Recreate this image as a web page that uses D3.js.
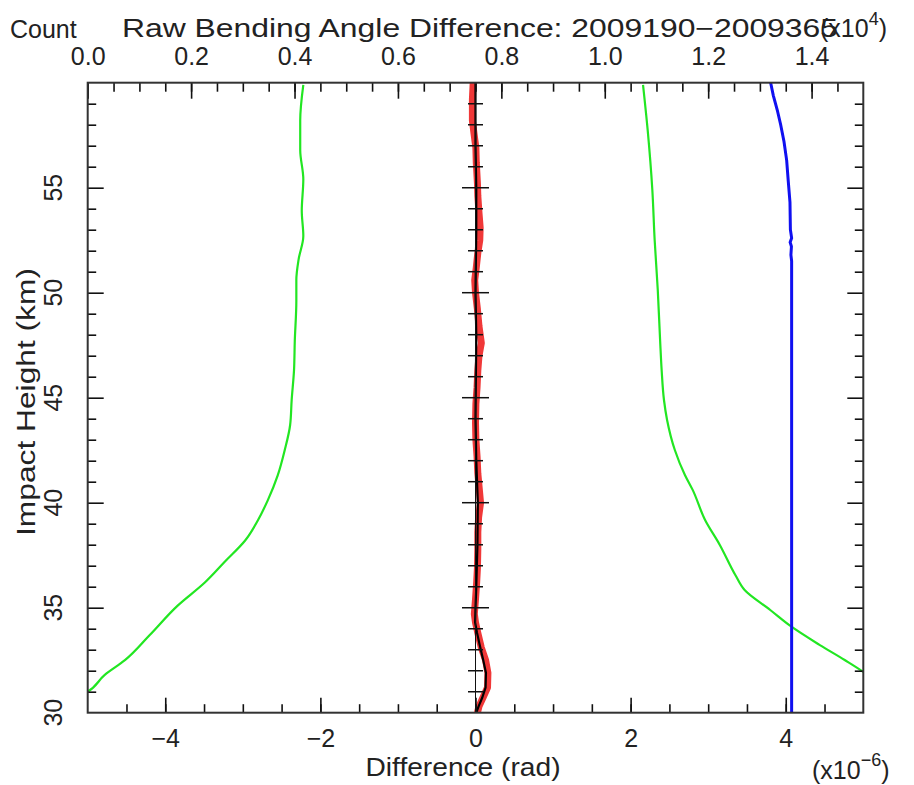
<!DOCTYPE html>
<html>
<head>
<meta charset="utf-8">
<script src="https://cdn.jsdelivr.net/npm/d3@7"></script>
<style>
  body { margin: 0; background: #fff; }
  text { font-family: "Liberation Sans", Arial, sans-serif; fill: #222; }
</style>
</head>
<body>
<div id="chart"></div>
<script>
// data (difference in 1e-6 rad, height in km, count)
var redKm  = [60, 59.2, 58.2, 57.6, 56.9, 56.2, 55.2, 54.6, 53.8, 53.1, 52.5, 51.9, 51.2, 50.6, 50.0, 49.2, 48.4, 47.6, 47.0, 46.3, 45.5, 44.7, 43.8, 43.0, 42.2, 41.4, 40.6, 40.0, 39.3, 38.6, 37.8, 36.9, 36.2, 35.4, 34.7, 34.3, 33.8, 33.1, 32.5, 31.9, 31.2, 30.75, 30.3, 30.0];
var redVal = [-0.03, -0.04, -0.04, -0.02, 0.005, 0.01, 0.025, 0.03, 0.045, 0.06, 0.055, 0.03, 0.01, -0.01, 0.0, 0.025, 0.045, 0.075, 0.045, 0.03, 0.02, 0.005, 0.0, 0.005, 0.02, 0.03, 0.05, 0.065, 0.04, 0.03, 0.03, 0.025, 0.015, 0.0, -0.015, 0.0, 0.03, 0.075, 0.13, 0.16, 0.155, 0.1, 0.045, 0.025];

var blackKm  = [60, 57, 55, 53, 50, 48, 46, 44, 42, 40, 38, 36, 35, 34.3, 33.8, 33.3, 32.5, 31.9, 31.2, 30.7, 30.3, 30.0];
var blackVal = [0.0, 0.0, 0.01, 0.01, 0.0, 0.01, 0.005, 0.0, 0.01, 0.03, 0.025, 0.01, 0.0, -0.005, 0.02, 0.05, 0.1, 0.135, 0.13, 0.085, 0.04, 0.01];

var greenLoKm  = [59.9, 58.2, 56.8, 55.4, 53.9, 52.7, 51.6, 50.6, 49.6, 47.7, 46.3, 44.9, 43.7, 42.5, 41.3, 40.1, 39.2, 38.2, 37.2, 36.2, 35.1, 33.7, 32.5, 31.8, 30.98, 30.5, 30.0];
var greenLoVal = [-2.22, -2.26, -2.26, -2.22, -2.24, -2.22, -2.28, -2.31, -2.31, -2.33, -2.34, -2.37, -2.39, -2.46, -2.55, -2.68, -2.8, -2.97, -3.23, -3.49, -3.84, -4.2, -4.52, -4.78, -5.01, -5.3, -5.6];

var greenHiKm  = [59.9, 57.74, 54.89, 52.51, 50.13, 47.75, 46.32, 44.89, 43.94, 42.51, 41.32, 40.61, 39.18, 37.99, 36.56, 35.84, 34.89, 34.13, 33.22, 32.51, 31.94, 31.5, 30.0];
var greenHiVal = [2.16, 2.22, 2.28, 2.31, 2.35, 2.38, 2.40, 2.43, 2.47, 2.57, 2.70, 2.80, 2.96, 3.15, 3.35, 3.47, 3.80, 4.06, 4.44, 4.76, 5.0, 5.15, 5.7];

var blueKm    = [60, 59.4, 58.7, 58.0, 57.2, 56.3, 55.3, 54.3, 53.0, 52.6, 52.4, 52.2, 51.8, 51.5, 30];
var blueCount = [13208, 13259, 13336, 13402, 13466, 13518, 13549, 13582, 13590, 13614, 13585, 13610, 13600, 13614, 13614];

var xTicks = [-4, -2, 0, 2, 4];
var countTicks = [0, 2000, 4000, 6000, 8000, 10000, 12000, 14000];
var yTicks = [30, 35, 40, 45, 50, 55];

var W = 914, H = 785;
var pL = 87.7, pR = 863.3, pT = 82.7, pB = 712.7;

var svg = d3.select("#chart").append("svg")
    .attr("width", W)
    .attr("height", H);

var x = d3.scaleLinear().domain([-5, 5]).range([pL, pR]);
var xc = d3.scaleLinear().domain([0, 15000]).range([pL, pR]);
var y = d3.scaleLinear().domain([30, 60]).range([pB, pT]);

svg.append("clipPath").attr("id", "clip")
    .append("rect")
    .attr("x", pL).attr("y", pT)
    .attr("width", pR - pL).attr("height", pB - pT);

var plot = svg.append("g").attr("clip-path", "url(#clip)");

function pairs(a, b) {
    return a.map(function (d, i) { return [d, b[i]]; });
}

var diffLine = d3.line()
    .x(function (d) { return x(d[1]); })
    .y(function (d) { return y(d[0]); });

var smoothLine = d3.line()
    .curve(d3.curveMonotoneY)
    .x(function (d) { return x(d[1]); })
    .y(function (d) { return y(d[0]); });

var countLine = d3.line()
    .x(function (d) { return xc(d[1]); })
    .y(function (d) { return y(d[0]); });

plot.append("path")
    .attr("d", smoothLine(pairs(greenLoKm, greenLoVal)))
    .attr("fill", "none").attr("stroke", "#22e622").attr("stroke-width", 2.2);

plot.append("path")
    .attr("d", smoothLine(pairs(greenHiKm, greenHiVal)))
    .attr("fill", "none").attr("stroke", "#22e622").attr("stroke-width", 2.2);

plot.append("path")
    .attr("d", countLine(pairs(blueKm, blueCount)))
    .attr("fill", "none").attr("stroke", "#1010f0").attr("stroke-width", 3);

plot.append("path")
    .attr("d", diffLine(pairs(redKm, redVal)))
    .attr("fill", "none").attr("stroke", "#f03838").attr("stroke-width", 7)
    .attr("stroke-linejoin", "round");

plot.append("path")
    .attr("d", diffLine(pairs(blackKm, blackVal)))
    .attr("fill", "none").attr("stroke", "#000").attr("stroke-width", 2.2);

// zero axis with crossing ticks, drawn over the curves
plot.append("line")
    .attr("x1", x(0)).attr("x2", x(0))
    .attr("y1", pT).attr("y2", pB)
    .attr("stroke", "#111").attr("stroke-width", 1);

var kmAll = d3.range(31, 60);
plot.selectAll(".zt")
    .data(kmAll)
    .enter()
    .append("line")
    .attr("class", "zt")
    .attr("x1", function (d) { return x(0) - (d % 5 == 0 ? 13.5 : 7.5); })
    .attr("x2", function (d) { return x(0) + (d % 5 == 0 ? 13.5 : 7.5); })
    .attr("y1", function (d) { return y(d); })
    .attr("y2", function (d) { return y(d); })
    .attr("stroke", "#111").attr("stroke-width", 1.5);

// axes
function clean(g) {
    g.select(".domain").remove();
    g.selectAll(".tick line").attr("stroke", "#111").attr("stroke-width", 1.6);
    g.selectAll("text").style("font-family", "Liberation Sans, Arial, sans-serif")
        .style("font-size", "25px").attr("fill", "#222");
}

// bottom
svg.append("g").attr("transform", "translate(0," + pB + ")")
    .call(d3.axisBottom(x).tickValues(d3.range(-4.5, 5, 0.5)).tickSize(-8.5).tickFormat("").tickSizeOuter(0))
    .call(clean);
svg.append("g").attr("transform", "translate(0," + pB + ")")
    .call(d3.axisBottom(x).tickValues(xTicks).tickSize(-15).tickPadding(17).tickSizeOuter(0))
    .call(clean);

// top
svg.append("g").attr("transform", "translate(0," + pT + ")")
    .call(d3.axisTop(xc).tickValues(d3.range(500, 15000, 500)).tickSize(-9).tickFormat("").tickSizeOuter(0))
    .call(clean);
svg.append("g").attr("transform", "translate(0," + pT + ")")
    .call(d3.axisTop(xc).tickValues(countTicks).tickSize(-16).tickPadding(18).tickSizeOuter(0)
        .tickFormat(function (d) { return (d / 1e4).toFixed(1); }))
    .call(clean);

// left & right
var minorKm = kmAll.filter(function (d) { return d % 5 != 0; });
svg.append("g").attr("transform", "translate(" + pL + ",0)")
    .call(d3.axisLeft(y).tickValues(minorKm).tickSize(-8.5).tickFormat("").tickSizeOuter(0))
    .call(clean);
svg.append("g").attr("transform", "translate(" + pL + ",0)")
    .call(d3.axisLeft(y).tickValues(yTicks.slice(1)).tickSize(-16).tickFormat("").tickSizeOuter(0))
    .call(clean);
svg.append("g").attr("transform", "translate(" + pR + ",0)")
    .call(d3.axisRight(y).tickValues(minorKm).tickSize(-8.5).tickFormat("").tickSizeOuter(0))
    .call(clean);
svg.append("g").attr("transform", "translate(" + pR + ",0)")
    .call(d3.axisRight(y).tickValues(yTicks.slice(1)).tickSize(-16).tickFormat("").tickSizeOuter(0))
    .call(clean);

svg.selectAll(".ylab")
    .data(yTicks)
    .enter()
    .append("text")
    .attr("class", "ylab")
    .attr("transform", function (d) { return "translate(62," + y(d) + ") rotate(-90)"; })
    .attr("text-anchor", "middle")
    .style("font-size", "25px")
    .text(function (d) { return d; });

// frame
svg.append("rect")
    .attr("x", pL).attr("y", pT)
    .attr("width", pR - pL).attr("height", pB - pT)
    .attr("fill", "none").attr("stroke", "#333").attr("stroke-width", 2);

// labels
svg.append("text")
    .attr("x", 10).attr("y", 38)
    .style("font-size", "25px")
    .text("Count");

svg.append("text")
    .attr("x", 122).attr("y", 37)
    .attr("textLength", 716).attr("lengthAdjust", "spacingAndGlyphs")
    .style("font-size", "25px")
    .text("Raw Bending Angle Difference: 2009190\u22122009365");

var e4 = svg.append("text")
    .attr("x", 820).attr("y", 37)
    .style("font-size", "25px");
e4.append("tspan").text("(x10");
e4.append("tspan").attr("dy", -12).style("font-size", "18px").text("4");
e4.append("tspan").attr("dy", 12).text(")");

svg.append("text")
    .attr("x", 463).attr("y", 776)
    .attr("text-anchor", "middle")
    .attr("textLength", 195).attr("lengthAdjust", "spacingAndGlyphs")
    .style("font-size", "25px")
    .text("Difference (rad)");

var e6 = svg.append("text")
    .attr("x", 812).attr("y", 779)
    .style("font-size", "25px");
e6.append("tspan").text("(x10");
e6.append("tspan").attr("dy", -13).style("font-size", "18px").text("\u22126");
e6.append("tspan").attr("dy", 13).text(")");

svg.append("text")
    .attr("transform", "translate(35,402) rotate(-90)")
    .attr("text-anchor", "middle")
    .attr("textLength", 268).attr("lengthAdjust", "spacingAndGlyphs")
    .style("font-size", "25px")
    .text("Impact Height (km)");
</script>
</body>
</html>
